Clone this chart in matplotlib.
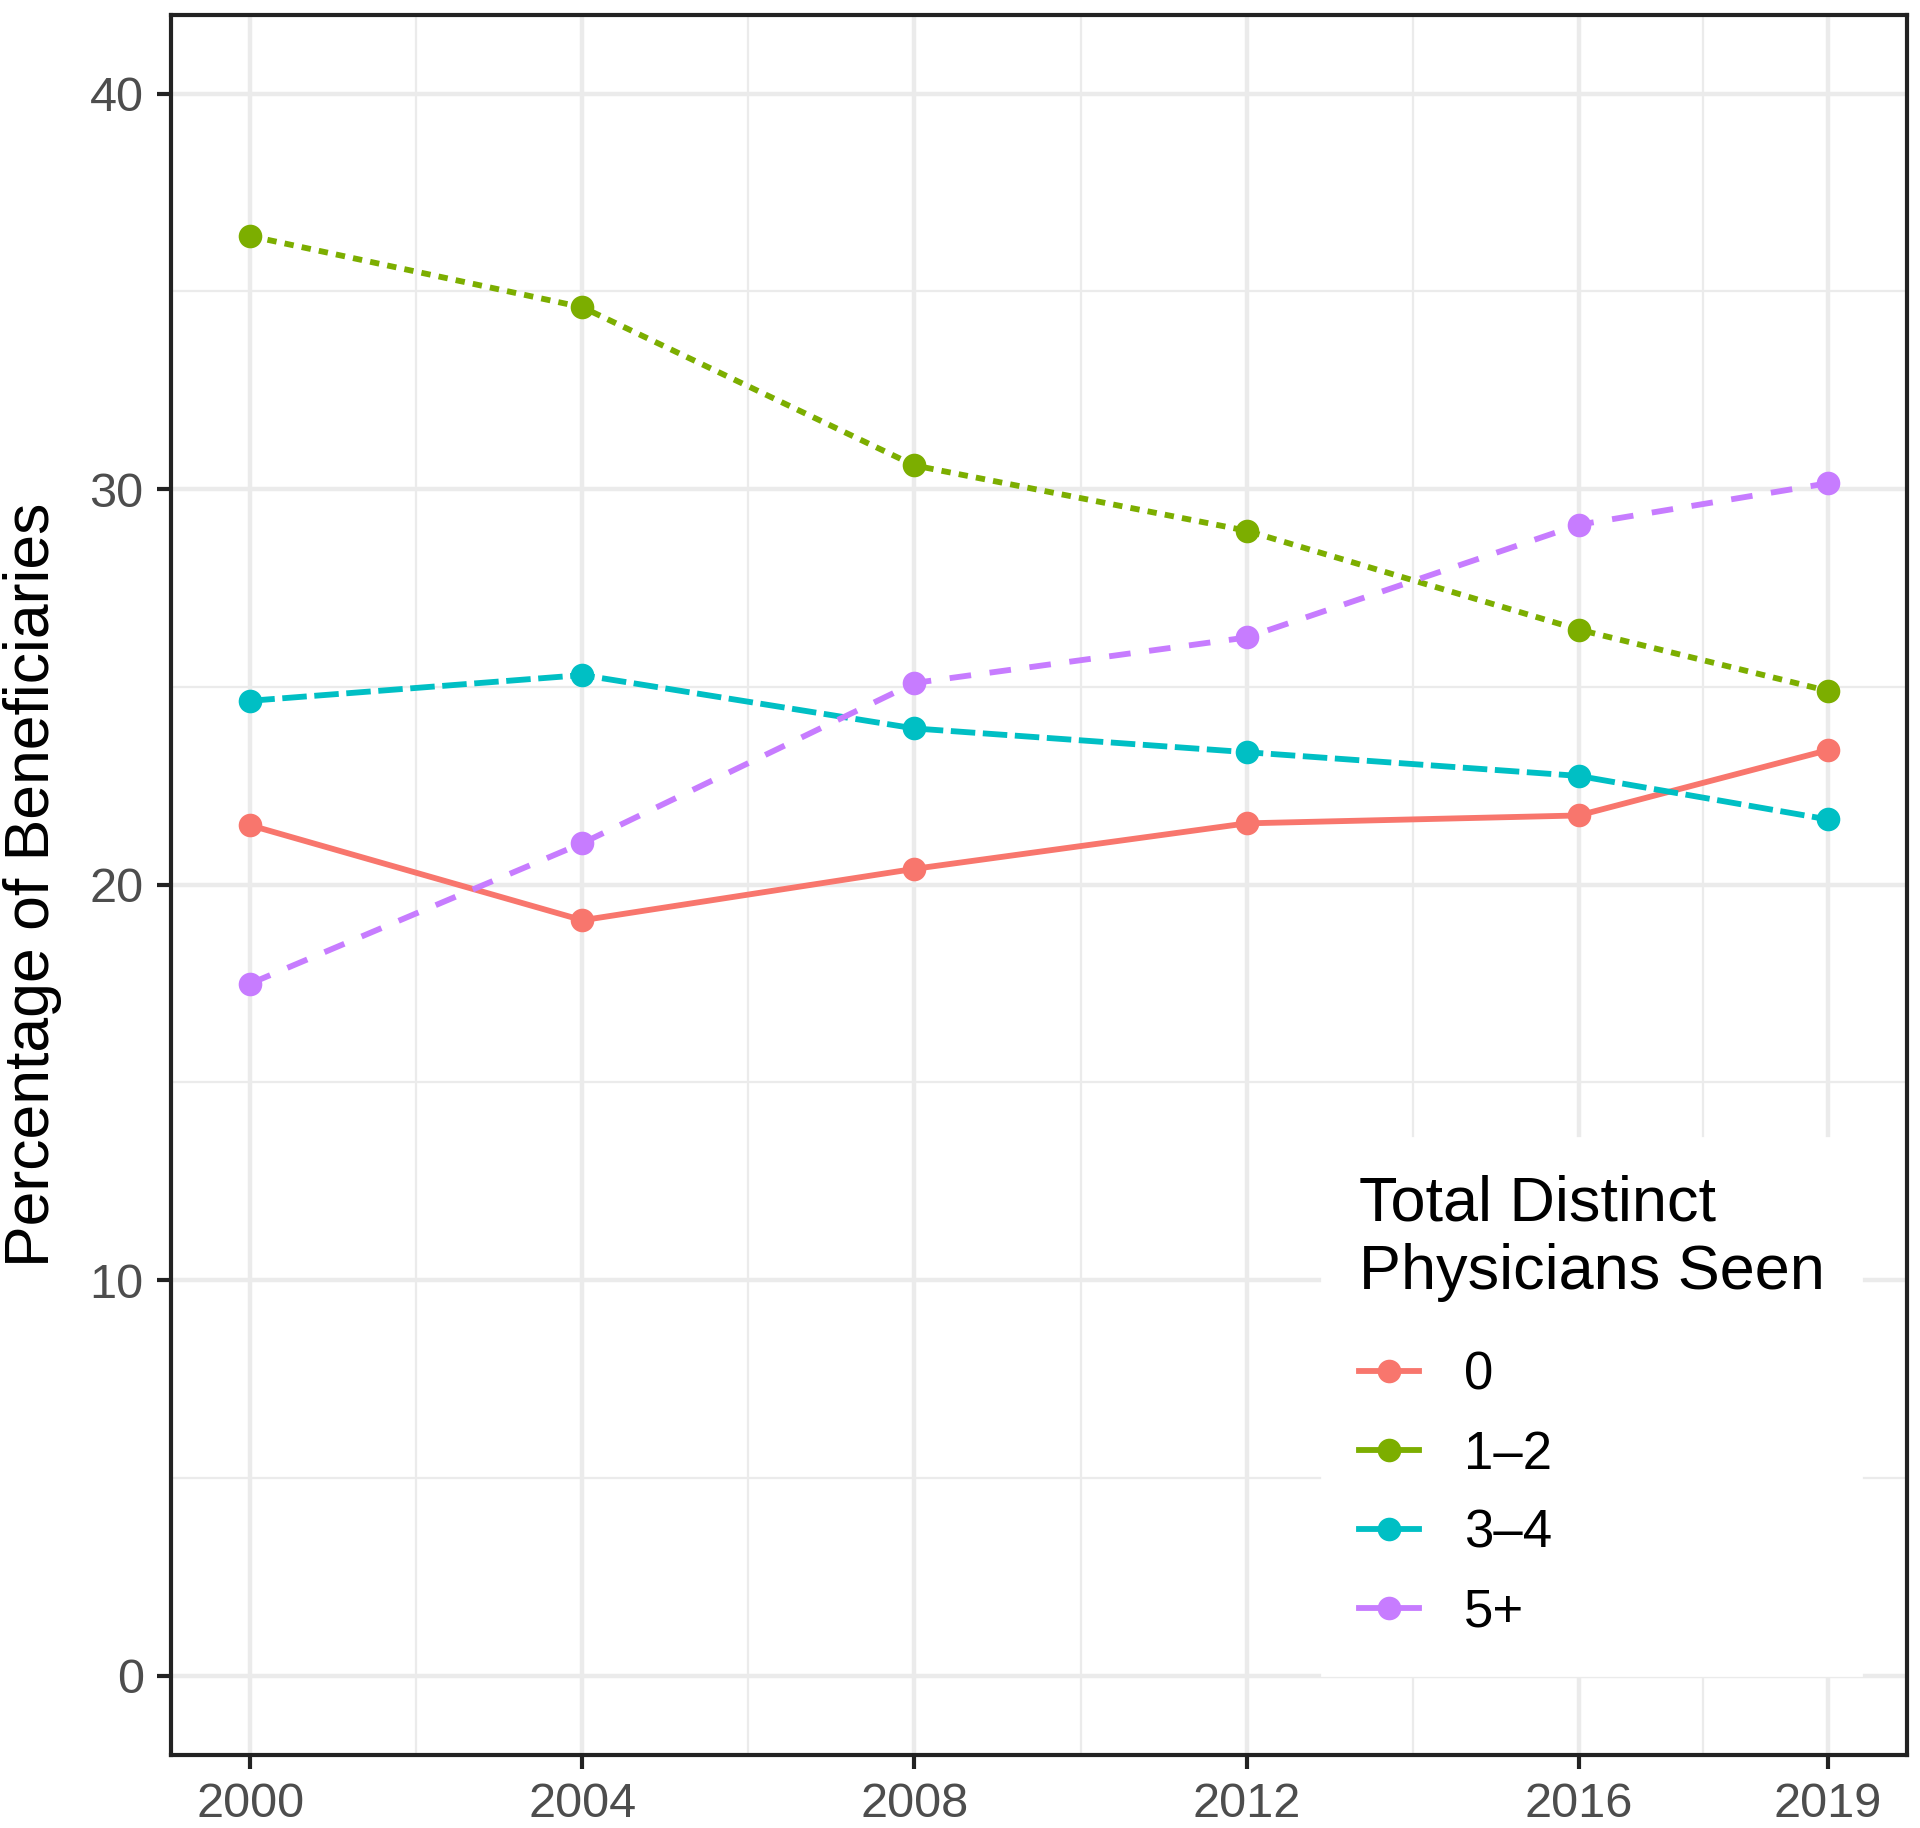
import matplotlib.pyplot as plt
from matplotlib.lines import Line2D

plt.rcParams['font.family'] = ['Liberation Sans', 'DejaVu Sans']

years = [2000, 2004, 2008, 2012, 2016, 2019]
groups = ['0', '1–2', '3–4', '5+']
pct_0 = [21.5, 19.1, 20.4, 21.55, 21.75, 23.4]
pct_1_2 = [36.4, 34.6, 30.6, 28.95, 26.45, 24.9]
pct_3_4 = [24.65, 25.3, 23.95, 23.35, 22.75, 21.65]
pct_5p = [17.5, 21.05, 25.1, 26.25, 29.1, 30.15]

series = [pct_0, pct_1_2, pct_3_4, pct_5p]
colors = ['#F8766D', '#7CAE00', '#00BFC4', '#C77CFF']
styles = ['-', (0, (1.6, 1.4)), (0, (4.2, 1.3)), (0, (3.7, 3.2))]

fig = plt.figure(figsize=(9.6, 9.14), dpi=200)
ax = fig.add_axes([0.0893, 0.0401, 0.9037, 0.9519])

for vals, name, c, ls in zip(series, groups, colors, styles):
    ax.plot(years, vals, color=c, linestyle=ls, linewidth=2.1,
            marker='o', markersize=7.5, label=name, zorder=3)

ax.set_xlim(1999.05, 2019.95)
ax.set_ylim(-2, 42)
ax.set_xticks(years)
ax.set_xticks([2002, 2006, 2010, 2014, 2017.5], minor=True)
ax.set_yticks([0, 10, 20, 30, 40])
ax.set_yticks([5, 15, 25, 35], minor=True)

ax.grid(which='major', color='#EBEBEB', linewidth=1.6, zorder=0)
ax.grid(which='minor', color='#EBEBEB', linewidth=0.8, zorder=0)
ax.set_axisbelow(True)

for s in ax.spines.values():
    s.set_color('#222222')
    s.set_linewidth(1.5)

ax.tick_params(which='major', length=5, width=1.5, color='#222222',
               labelsize=17.5, labelcolor='#4D4D4D', pad=5)
ax.tick_params(which='minor', length=0)

ax.set_ylabel('Percentage of Beneficiaries', fontsize=22.5, labelpad=10)

handles = [Line2D([0], [0], color=c, linewidth=2.1, marker='o', markersize=7.5)
           for c in colors]
leg = ax.legend(handles, groups, title='Total Distinct\nPhysicians Seen',
                loc='lower right', bbox_to_anchor=(0.974, 0.046),
                fontsize=19, title_fontsize=22.7, frameon=True, fancybox=False,
                edgecolor='white', facecolor='white', framealpha=1,
                handlelength=1.15, handletextpad=0.85, labelspacing=0.55,
                borderpad=0.7, borderaxespad=0)
leg._legend_box.align = 'left'
leg._legend_box.sep = 17.5
leg.set_zorder(5)

fig.savefig('out.png', dpi=200)
